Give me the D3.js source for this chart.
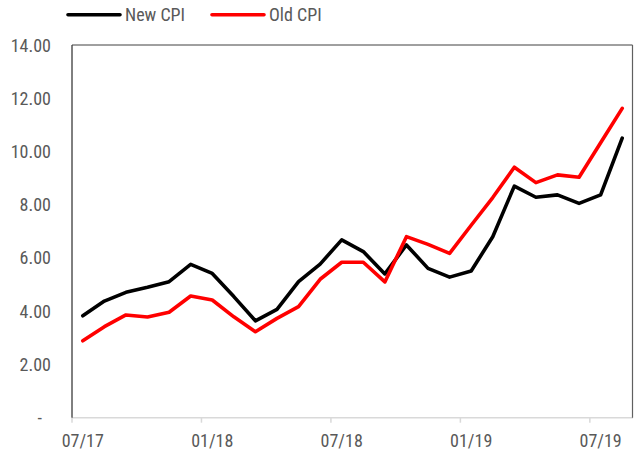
<!DOCTYPE html>
<html>
<head>
<meta charset="utf-8">
<script src="https://cdn.jsdelivr.net/npm/d3@7"></script>
<style>
  body { margin: 0; background: #fff; }
  svg text { font-family: "Liberation Sans Narrow", "Arial Narrow", "Roboto Condensed", sans-serif; fill: #595959; }
</style>
</head>
<body>
<svg id="chart" width="634" height="454"></svg>
<script>
// monthly, 07/17 .. 08/19
var months = ['07/17','08/17','09/17','10/17','11/17','12/17',
              '01/18','02/18','03/18','04/18','05/18','06/18',
              '07/18','08/18','09/18','10/18','11/18','12/18',
              '01/19','02/19','03/19','04/19','05/19','06/19',
              '07/19','08/19'];
var newCpi = [3.83, 4.38, 4.71, 4.90, 5.11, 5.76, 5.42, 4.55, 3.64, 4.07,
              5.11, 5.77, 6.68, 6.24, 5.40, 6.49, 5.61, 5.28, 5.51, 6.80,
              8.70, 8.28, 8.37, 8.05, 8.37, 10.50];
var oldCpi = [2.89, 3.42, 3.86, 3.78, 3.96, 4.57, 4.42, 3.79, 3.23, 3.73,
              4.17, 5.20, 5.84, 5.84, 5.10, 6.80, 6.51, 6.17, 7.23, 8.27,
              9.41, 8.83, 9.12, 9.03, 10.33, 11.62];
var yTicks = [0, 2, 4, 6, 8, 10, 12, 14];
var xLabels = ['07/17', '01/18', '07/18', '01/19', '07/19'];
var seriesNames = ['New CPI', 'Old CPI'];
var seriesColors = ['#000000', '#ff0000'];

var svg = d3.select('#chart');
var plotLeft = 72, plotRight = 633, plotTop = 45, plotBottom = 417.7;

var x = d3.scaleBand().domain(months).range([plotLeft, plotRight]).padding(0);
var y = d3.scaleLinear().domain([0, 14]).range([plotBottom, plotTop]);

// y labels
svg.append('g').selectAll('text')
  .data(yTicks)
  .enter()
  .append('text')
  .attr('x', function(d){ return d === 0 ? 42 : 51; })
  .attr('y', function(d){ return y(d) + 6.5; })
  .attr('text-anchor', 'end')
  .style('font-size', '18px')
  .text(function(d){ return d === 0 ? '-' : d3.format('.2f')(d); });

// bottom axis line + ticks at category boundaries
svg.append('line')
  .attr('x1', plotLeft).attr('x2', plotRight)
  .attr('y1', plotBottom).attr('y2', plotBottom)
  .attr('stroke', '#d9d9d9').attr('stroke-width', 1.5);
svg.append('g').selectAll('line')
  .data(xLabels)
  .enter()
  .append('line')
  .attr('x1', function(d){ return x(d); })
  .attr('x2', function(d){ return x(d); })
  .attr('y1', plotBottom).attr('y2', plotBottom + 5)
  .attr('stroke', '#d9d9d9').attr('stroke-width', 1.5);
svg.append('g').selectAll('text')
  .data(xLabels)
  .enter()
  .append('text')
  .attr('x', function(d){ return x(d) + x.bandwidth()/2; })
  .attr('y', 446.5)
  .attr('text-anchor', 'middle')
  .style('font-size', '18px')
  .text(function(d){ return d; });

// frame (left, top, right)
svg.append('line').attr('x1', plotLeft).attr('x2', plotLeft).attr('y1', plotTop).attr('y2', plotBottom)
  .attr('stroke', '#000').attr('stroke-width', 1);
svg.append('line').attr('x1', plotLeft).attr('x2', 632.5).attr('y1', plotTop).attr('y2', plotTop)
  .attr('stroke', '#404040').attr('stroke-width', 1);
svg.append('line').attr('x1', 632.5).attr('x2', 632.5).attr('y1', plotTop).attr('y2', plotBottom)
  .attr('stroke', '#606060').attr('stroke-width', 1.2);

// series lines
var line = d3.line()
  .x(function(d, i){ return x(months[i]) + x.bandwidth()/2; })
  .y(function(d){ return y(d); });

[newCpi, oldCpi].forEach(function(vals, k){
  svg.append('path')
    .datum(vals)
    .attr('d', line)
    .attr('fill', 'none')
    .attr('stroke', seriesColors[k])
    .attr('stroke-width', 3.6)
    .attr('stroke-linejoin', 'round')
    .attr('stroke-linecap', 'round');
});

// legend
var legendX = [68, 212];
var leg = svg.append('g').selectAll('g')
  .data(seriesNames)
  .enter()
  .append('g')
  .attr('transform', function(d, i){ return 'translate(' + legendX[i] + ',14.7)'; });
leg.append('line')
  .attr('x1', 0).attr('x2', 52)
  .attr('y1', 0).attr('y2', 0)
  .attr('stroke', function(d, i){ return seriesColors[i]; })
  .attr('stroke-width', 3.6)
  .attr('stroke-linecap', 'round');
leg.append('text')
  .attr('x', 57)
  .attr('y', 6.3)
  .style('font-size', '18px')
  .text(function(d){ return d; });
</script>
</body>
</html>
